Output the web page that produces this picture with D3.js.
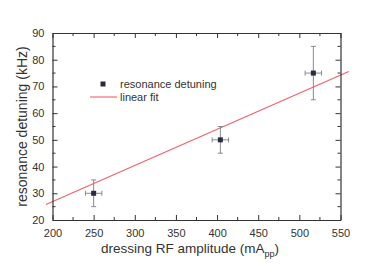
<!DOCTYPE html>
<html><head><meta charset="utf-8">
<script src="https://cdn.jsdelivr.net/npm/d3@7"></script>
<style>body{margin:0;background:#fff}svg{display:block}</style>
</head><body>
<svg id="c" width="374" height="277"></svg>
<script>
const amplitude = [250, 404, 517];
const amplitudeErr = [10, 10, 10];
const detuning = [30, 50, 75];
const detuningErr = [5, 5, 10];
const fitX = [192, 560];
const fitY = [25.8, 75.6];
const xTicks = [200, 250, 300, 350, 400, 450, 500, 550];
const yTicks = [20, 30, 40, 50, 60, 70, 80, 90];
const legendLabels = ["resonance detuning", "linear fit"];

const svg = d3.select("#c");
const L = 52.5, R = 340.5, T = 33, B = 220;
const x = d3.scaleLinear().domain([200, 550]).range([L, R]);
const y = d3.scaleLinear().domain([20, 90]).range([B, T]);
const font = "'Liberation Sans', Arial, sans-serif";
const axisCol = "#333";

// fit line
svg.append("line")
  .attr("x1", x(fitX[0])).attr("y1", y(fitY[0]))
  .attr("x2", x(fitX[1])).attr("y2", y(fitY[1]))
  .attr("stroke", "#f0606e").attr("stroke-width", 1.1);

// axes
function styleAxis(g) {
  g.select(".domain").attr("stroke", axisCol).attr("stroke-width", 1.2);
  g.selectAll(".tick line").attr("stroke", axisCol);
  g.selectAll(".tick text").attr("fill", "#333").attr("font-family", font).attr("font-size", 11);
}
const xMinor = d3.range(225, 550, 50);
const yMinor = d3.range(25, 90, 10);

const gB = svg.append("g").attr("transform", `translate(0,${B})`)
  .call(d3.axisBottom(x).tickValues(xTicks).tickSizeInner(-5).tickSizeOuter(0).tickPadding(9));
styleAxis(gB);
gB.selectAll(".minor").data(xMinor).enter().append("line")
  .attr("x1", d => x(d)).attr("x2", d => x(d)).attr("y1", 0).attr("y2", -3).attr("stroke", axisCol);

const gT = svg.append("g").attr("transform", `translate(0,${T})`)
  .call(d3.axisTop(x).tickValues(xTicks).tickSizeInner(-5).tickSizeOuter(0).tickFormat(""));
styleAxis(gT);
gT.selectAll(".minor").data(xMinor).enter().append("line")
  .attr("x1", d => x(d)).attr("x2", d => x(d)).attr("y1", 0).attr("y2", 3).attr("stroke", axisCol);

const gL = svg.append("g").attr("transform", `translate(${L},0)`)
  .call(d3.axisLeft(y).tickValues(yTicks).tickSizeInner(-5).tickSizeOuter(0).tickPadding(8));
styleAxis(gL);
gL.selectAll(".minor").data(yMinor).enter().append("line")
  .attr("y1", d => y(d)).attr("y2", d => y(d)).attr("x1", 0).attr("x2", 3).attr("stroke", axisCol);

const gR = svg.append("g").attr("transform", `translate(${R},0)`)
  .call(d3.axisRight(y).tickValues(yTicks).tickSizeInner(-5).tickSizeOuter(0).tickFormat(""));
styleAxis(gR);
gR.selectAll(".minor").data(yMinor).enter().append("line")
  .attr("y1", d => y(d)).attr("y2", d => y(d)).attr("x1", 0).attr("x2", -3).attr("stroke", axisCol);

// error bars + points
const pts = amplitude.map((a, i) => ({a, ae: amplitudeErr[i], d: detuning[i], de: detuningErr[i]}));
const eb = svg.append("g").attr("stroke", "#8a8a8a").attr("stroke-width", 1);
pts.forEach(p => {
  eb.append("line").attr("x1", x(p.a)).attr("x2", x(p.a)).attr("y1", y(p.d - p.de)).attr("y2", y(p.d + p.de));
  eb.append("line").attr("x1", x(p.a - p.ae)).attr("x2", x(p.a + p.ae)).attr("y1", y(p.d)).attr("y2", y(p.d));
  [p.d - p.de, p.d + p.de].forEach(v => eb.append("line").attr("x1", x(p.a) - 2.5).attr("x2", x(p.a) + 2.5).attr("y1", y(v)).attr("y2", y(v)));
  [p.a - p.ae, p.a + p.ae].forEach(v => eb.append("line").attr("x1", x(v)).attr("x2", x(v)).attr("y1", y(p.d) - 2.5).attr("y2", y(p.d) + 2.5));
});
svg.selectAll(".pt").data(pts).enter().append("rect")
  .attr("x", p => x(p.a) - 2.5).attr("y", p => y(p.d) - 2.5).attr("width", 5).attr("height", 5)
  .attr("fill", "#2b2b40");

// legend
svg.append("rect").attr("x", 100.5).attr("y", 81.5).attr("width", 5).attr("height", 5).attr("fill", "#2b2b40");
svg.append("line").attr("x1", 90).attr("x2", 117).attr("y1", 97).attr("y2", 97).attr("stroke", "#f0606e").attr("stroke-width", 1.1);
svg.selectAll(".lg").data(legendLabels).enter().append("text")
  .attr("x", 120).attr("y", (d, i) => 88 + i * 13)
  .attr("font-family", font).attr("font-size", 11).attr("fill", "#333").text(d => d);

// axis titles
const xt = svg.append("text").attr("x", 190).attr("y", 253).attr("text-anchor", "middle")
  .attr("font-family", font).attr("font-size", 13.5).attr("fill", "#333");
xt.append("tspan").text("dressing RF amplitude (mA");
xt.append("tspan").attr("font-size", 9).attr("dy", 4).text("pp");
xt.append("tspan").attr("dy", -4).text(")");

svg.append("text").attr("transform", `translate(27,${(T + B) / 2}) rotate(-90)`)
  .attr("text-anchor", "middle").attr("font-family", font).attr("font-size", 14).attr("fill", "#333")
  .text("resonance detuning (kHz)");
</script>
</body></html>
